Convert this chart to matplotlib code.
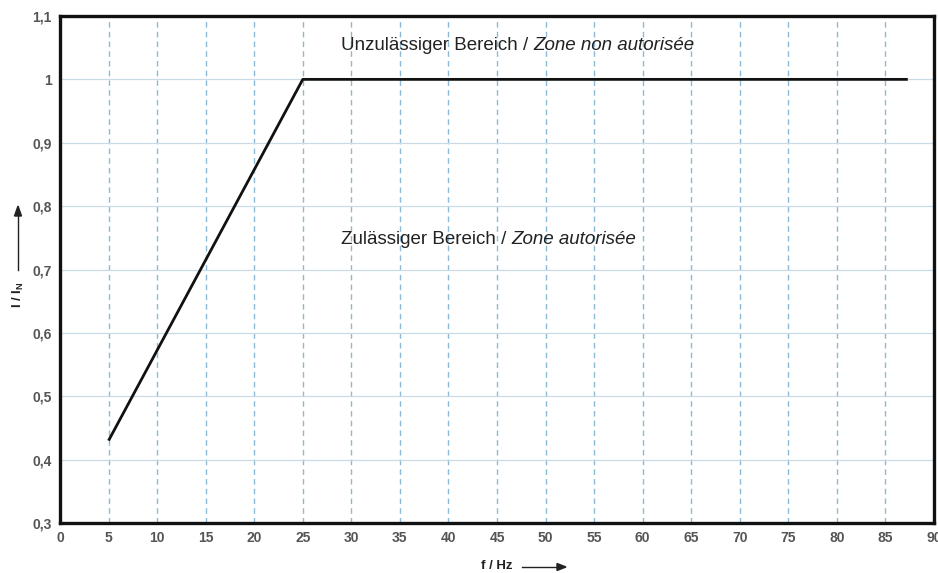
import matplotlib.pyplot as plt
import numpy as np
from matplotlib.ticker import FuncFormatter

plt.rcParams.update({
    'font.family': ['Liberation Sans', 'DejaVu Sans'],
    'font.size': 11,
})

# limit curve I/I_N over f
freq = [5, 25, 87.3]
current_ratio = [0.43, 1.0, 1.0]

x_ticks = list(range(0, 91, 5))
y_ticks = [0.3, 0.4, 0.5, 0.6, 0.7, 0.8, 0.9, 1.0, 1.1]

label_forbidden = ('Unzulässiger Bereich / ', 'Zone non autorisée')
label_allowed = ('Zulässiger Bereich / ', 'Zone autorisée')

GRID_BLUE = '#8cbad6'
TICK_GRAY = '#555555'

fig = plt.figure(figsize=(9.38, 5.73), dpi=100)
ax = fig.add_axes([60 / 938, 50 / 573, 874 / 938, 507 / 573])

ax.plot(freq, current_ratio, color='#111111', linewidth=2.0, solid_capstyle='butt', zorder=3)

ax.set_xlim(0, 90)
ax.set_ylim(0.3, 1.1)
ax.set_xticks(x_ticks)
ax.set_yticks(y_ticks)

def fmt_de(v, pos):
    s = f'{v:.1f}'.rstrip('0').rstrip('.') if v != 1.0 else '1'
    return s.replace('.', ',')

ax.yaxis.set_major_formatter(FuncFormatter(fmt_de))
ax.xaxis.set_major_formatter(FuncFormatter(lambda v, p: f'{v:.0f}'))
ax.tick_params(length=0, labelsize=10, labelcolor=TICK_GRAY, pad=6)
for lbl in ax.get_xticklabels() + ax.get_yticklabels():
    lbl.set_fontweight('bold')

ax.xaxis.grid(True, color=GRID_BLUE, linestyle=(0, (4, 3)), linewidth=1.0, snap=True)
ax.yaxis.grid(True, color='#c9dbe6', linestyle='-', linewidth=0.9)
ax.set_axisbelow(True)
for sp in ax.spines.values():
    sp.set_linewidth(2.4)
    sp.set_color('#111111')

# region labels: upright German part + italic French part
fig.canvas.draw()
renderer = fig.canvas.get_renderer()

def two_part_label(x, y, parts):
    t1 = ax.text(x, y, parts[0], fontsize=13.5, color='#222222', va='center', ha='left')
    bb = t1.get_window_extent(renderer)
    x2 = ax.transData.inverted().transform((bb.x1, 0))[0]
    ax.text(x2, y, parts[1], fontsize=13.5, color='#222222', va='center', ha='left', style='italic')

two_part_label(28.9, 1.053, label_forbidden)
two_part_label(28.9, 0.748, label_allowed)

# axis labels with arrows
fig.text(18 / 938, 1 - 295 / 573, 'I / I$_\\mathregular{N}$', rotation=90, fontsize=9.5,
         fontweight='bold', color='#222222', ha='center', va='center')
fig.add_artist(plt.Line2D([18 / 938, 18 / 938], [1 - 270 / 573, 1 - 216 / 573], color='#222222', lw=1))
fig.add_artist(plt.Polygon([[14.5 / 938, 1 - 216 / 573], [21.5 / 938, 1 - 216 / 573], [18 / 938, 1 - 206 / 573]],
                           closed=True, color='#222222'))

fig.text(497 / 938, 1 - 566 / 573, 'f / Hz', fontsize=9.5, fontweight='bold', color='#222222',
         ha='center', va='center')
fig.add_artist(plt.Line2D([522 / 938, 557 / 938], [1 - 567 / 573, 1 - 567 / 573], color='#222222', lw=1))
fig.add_artist(plt.Polygon([[557 / 938, 1 - 563.5 / 573], [557 / 938, 1 - 570.5 / 573], [566 / 938, 1 - 567 / 573]],
                           closed=True, color='#222222'))

fig.savefig('out.png', dpi=100)
